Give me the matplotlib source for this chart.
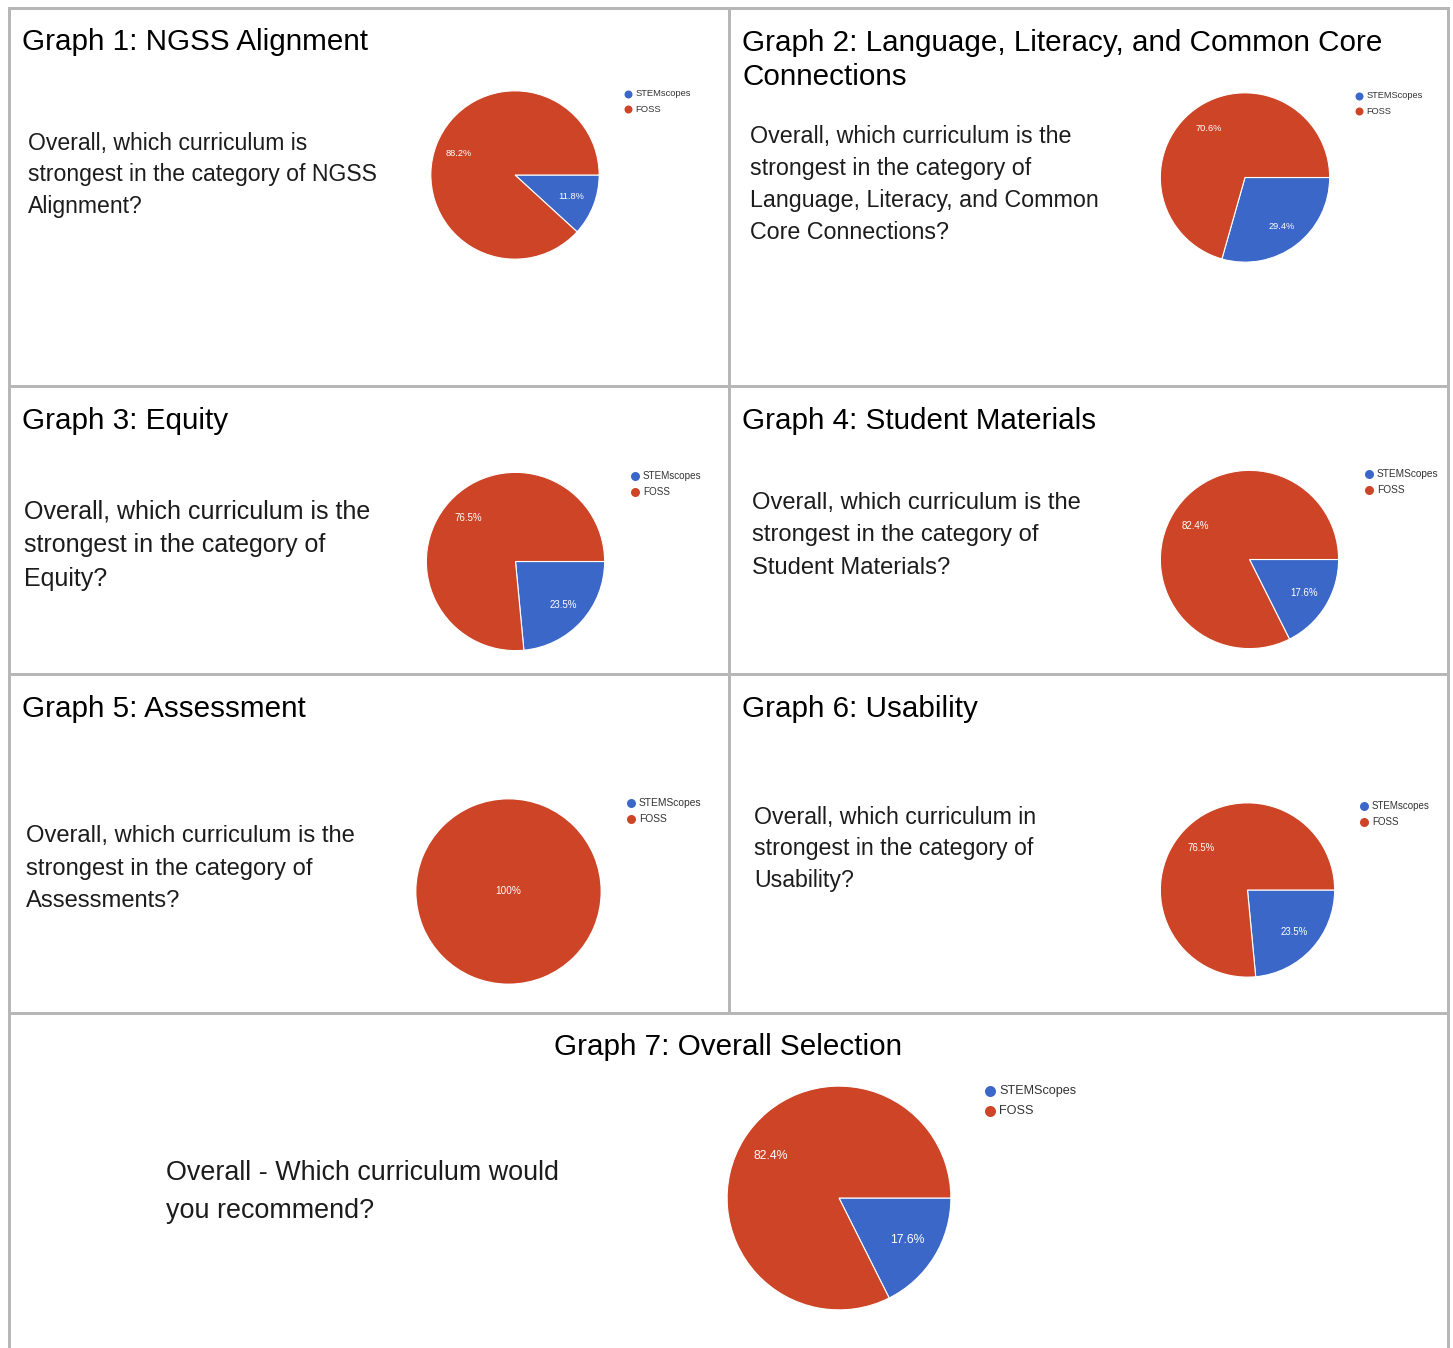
#!/usr/bin/env python3
# Curriculum comparison survey: seven pie charts laid out in a bordered grid

import matplotlib
matplotlib.use('Agg')
import matplotlib.pyplot as plt

W, H = 1453, 1348
DPI = 100

# ---- data ----
graph_titles = [
    ["Graph 1: NGSS Alignment"],
    ["Graph 2: Language, Literacy, and Common Core", "Connections"],
    ["Graph 3: Equity"],
    ["Graph 4: Student Materials"],
    ["Graph 5: Assessment"],
    ["Graph 6: Usability"],
    ["Graph 7: Overall Selection"],
]
questions = [
    ["Overall, which curriculum is", "strongest in the category of NGSS", "Alignment?"],
    ["Overall, which curriculum is the", "strongest in the category of",
     "Language, Literacy, and Common", "Core Connections?"],
    ["Overall, which curriculum is the", "strongest in the category of", "Equity?"],
    ["Overall, which curriculum is the", "strongest in the category of", "Student Materials?"],
    ["Overall, which curriculum is the", "strongest in the category of", "Assessments?"],
    ["Overall, which curriculum in", "strongest in the category of", "Usability?"],
    ["Overall - Which curriculum would", "you recommend?"],
]
stem_names = ["STEMscopes", "STEMScopes", "STEMscopes", "STEMScopes",
              "STEMScopes", "STEMscopes", "STEMScopes"]
foss_name = "FOSS"
stem_pct = [11.8, 29.4, 23.5, 17.6, 0.0, 23.5, 17.6]
foss_pct = [88.2, 70.6, 76.5, 82.4, 100.0, 76.5, 82.4]

BLUE = '#3a67c8'
RED = '#ce4426'
GRID = '#b7b7b7'

# ---- layout (pixels) ----
# pie centre x, centre y, radius, label font px
pies = [(515, 175, 85, 9.3), (1245, 177.5, 85.5, 9.3), (515.5, 561.5, 90, 9.8),
        (1249.5, 559.5, 90, 9.8), (508.5, 891.5, 93, 10), (1247.5, 890, 88, 9.6),
        (839, 1198, 113, 12.3)]
# legend marker x, first row y, row gap, text font px, marker px
legends = [(628, 94, 15, 9.4, 8), (1359, 96, 15, 9.3, 8), (635, 476, 16, 9.9, 9),
           (1369, 474, 16, 10.1, 9), (631, 803, 16, 10.3, 9), (1364, 806, 16, 9.8, 9),
           (990, 1091, 20, 12.6, 11)]
# title x, first baseline, line gap, horizontal alignment
titles = [(22, 50, 34, 'left'), (742, 51, 34, 'left'), (22, 429, 34, 'left'),
          (742, 429, 34, 'left'), (22, 717, 34, 'left'), (742, 717, 34, 'left'),
          (728, 1055, 34, 'center')]
# question x, first baseline, line gap, font px
qtext = [(28, 150, 31.5, 23.0), (750, 143, 32, 23.3), (24, 518, 34, 25.0),
         (752, 509, 32.5, 23.7), (26, 842, 32.5, 23.7), (754, 824, 31.5, 23.1),
         (166, 1180, 38, 26.9)]

plt.rcParams['font.family'] = ['Liberation Sans', 'DejaVu Sans']


def px(p):
    # pixel height -> points at the save dpi
    return p * 72.0 / DPI


fig = plt.figure(figsize=(W / DPI, H / DPI), dpi=DPI)
bg = fig.add_axes([0, 0, 1, 1])
bg.set_xlim(0, W)
bg.set_ylim(H, 0)
bg.axis('off')

# table borders
lw = px(3)
for y in (8, 386, 674, 1013):
    bg.plot([8.5, 1448], [y, y], color=GRID, lw=lw, solid_capstyle='projecting')
for x in (8.5, 1448):
    bg.plot([x, x], [8, H], color=GRID, lw=lw)
bg.plot([728.5, 728.5], [8, 1013], color=GRID, lw=lw)

for i in range(7):
    # title
    tx, ty, tgap, ha = titles[i]
    for k, line in enumerate(graph_titles[i]):
        bg.text(tx, ty + k * tgap, line, fontsize=21.3, ha=ha, va='baseline', color='black')

    # question
    qx, qy, qgap, qfs = qtext[i]
    for k, line in enumerate(questions[i]):
        bg.text(qx, qy + k * qgap, line, fontsize=px(qfs),
                ha='left', va='baseline', color='#1c1c1c')

    # pie
    cx, cy, r, lfs = pies[i]
    ax = fig.add_axes([(cx - r) / W, 1 - (cy + r) / H, 2 * r / W, 2 * r / H])
    vals, cols = [], []
    for v, c in zip([stem_pct[i], foss_pct[i]], [BLUE, RED]):
        if v > 0:
            vals.append(v)
            cols.append(c)

    def fmt(p):
        return '100%' if p > 99.95 else f'{p:.1f}%'

    ax.pie(vals, colors=cols, startangle=0, counterclock=False, radius=1,
           autopct=fmt, pctdistance=0.72 if len(vals) > 1 else 0.0,
           wedgeprops=dict(edgecolor='white', linewidth=0.8 if len(vals) > 1 else 0),
           textprops=dict(color='white', fontsize=px(lfs)))
    ax.set_xlim(-1.01, 1.01)
    ax.set_ylim(-1.01, 1.01)
    ax.axis('off')

    # legend
    lx, ly, lgap, lfs2, ms = legends[i]
    for k, (name, c) in enumerate([(stem_names[i], BLUE), (foss_name, RED)]):
        bg.plot([lx], [ly + k * lgap], marker='o', ls='', color=c, markersize=px(ms),
                markeredgewidth=0)
        bg.text(lx + ms * 0.55 + 3, ly + k * lgap, name, fontsize=px(lfs2),
                ha='left', va='center', color='#333333')

fig.savefig('out.png', dpi=DPI)
